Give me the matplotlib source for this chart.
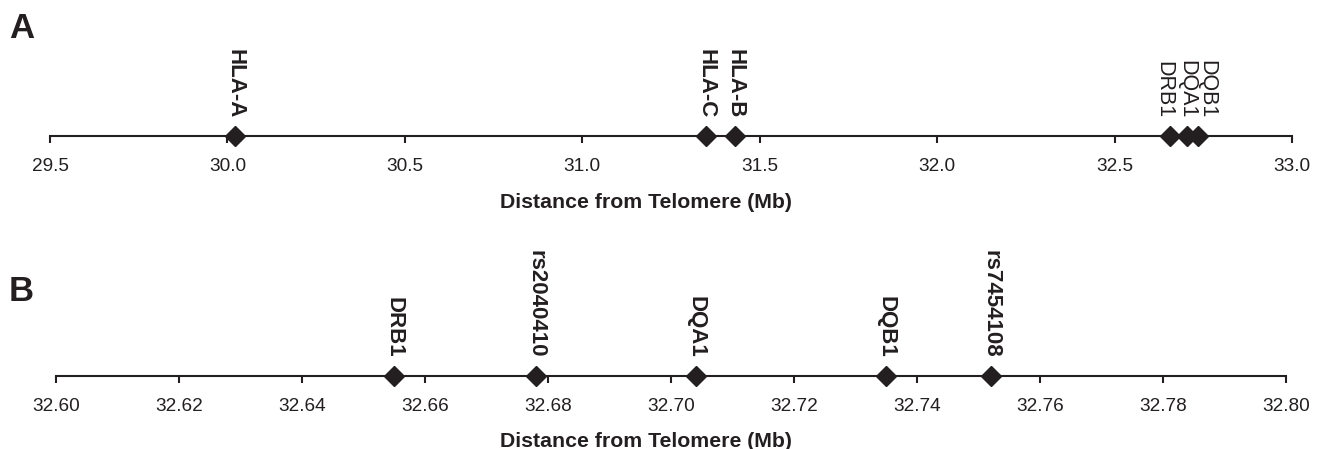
import matplotlib
matplotlib.use("Agg")
import matplotlib.pyplot as plt

plt.rcParams['font.family'] = ['Liberation Sans', 'DejaVu Sans']

# Panel A data (Mb)
genes_a = ["HLA-A", "HLA-C", "HLA-B", "DRB1", "DQA1", "DQB1"]
pos_a = [30.02, 31.35, 31.43, 32.655, 32.704, 32.735]
bold_a = [True, True, True, False, False, False]
ticks_a = [29.5, 30.0, 30.5, 31.0, 31.5, 32.0, 32.5, 33.0]
ticklabels_a = ["29.5", "30.0", "30.5", "31.0", "31.5", "32.0", "32.5", "33.0"]

# Panel B data (Mb)
genes_b = ["DRB1", "rs2040410", "DQA1", "DQB1", "rs7454108"]
pos_b = [32.655, 32.678, 32.704, 32.735, 32.752]
ticks_b = [32.60, 32.62, 32.64, 32.66, 32.68, 32.70, 32.72, 32.74, 32.76, 32.78, 32.80]
ticklabels_b = ["32.60", "32.62", "32.64", "32.66", "32.68", "32.70", "32.72",
                "32.74", "32.76", "32.78", "32.80"]

xlabel = "Distance from Telomere (Mb)"
col = "#231f20"

W, H = 1324, 449
fig = plt.figure(figsize=(W / 100, H / 100), dpi=100)


def make_axis(x0, x1, yspine, ticks, ticklabels, names, pos, bolds, offsets=None,
              sizes=None):
    ax = fig.add_axes([x0 / W, 1 - yspine / H, (x1 - x0) / W, 0.2])
    ax.set_xlim(ticks[0], ticks[-1])
    ax.set_ylim(0, 1)
    for s in ["top", "left", "right"]:
        ax.spines[s].set_visible(False)
    ax.spines["bottom"].set_linewidth(1.5)
    ax.spines["bottom"].set_color(col)
    ax.set_yticks([])
    ax.set_xticks(ticks)
    ax.set_xticklabels(ticklabels)
    ax.tick_params(axis="x", direction="out", length=5, width=1.5, color=col,
                   labelsize=13.7, labelcolor=col, pad=11)
    ax.plot(pos, [0] * len(pos), "D", color=col, markersize=10.5, clip_on=False, zorder=5)
    for i, (n, p, b) in enumerate(zip(names, pos, bolds)):
        dx = offsets[i] if offsets else 0
        fs = sizes[i] if sizes else 16
        ax.annotate(n, (p, 0), xytext=(dx, 13), textcoords="offset points",
                    rotation=-90, ha="center", va="bottom", fontsize=fs,
                    fontweight="bold" if b else "normal", color=col,
                    annotation_clip=False)
    ax.set_xlabel(xlabel, fontsize=15.3, fontweight="bold", color=col)
    ax.xaxis.label.set_va("top")
    ax.patch.set_alpha(0)
    return ax


axA = make_axis(50, 1292, 136, ticks_a, ticklabels_a, genes_a, pos_a, bold_a,
                offsets=[0, 0, 0, -4, 0, 6.5], sizes=[16, 16, 16, 15.5, 15.5, 15.5])
axB = make_axis(56, 1286, 376, ticks_b, ticklabels_b, genes_b, pos_b, [True] * 5)

# position xlabels explicitly (axes-fraction coords computed from pixel targets)
for ax, ytop in ((axA, 193), (axB, 432)):
    p = ax.get_position()
    yfrac = ((1 - ytop / H) - p.y0) / p.height
    ax.xaxis.set_label_coords((646 / W - p.x0) / p.width, yfrac)

fig.text(9 / W, 1 - 38 / H, "A", fontsize=25, fontweight="bold", color=col)
fig.text(9 / W, 1 - 301 / H, "B", fontsize=25, fontweight="bold", color=col)

fig.savefig("out.png", dpi=100)
